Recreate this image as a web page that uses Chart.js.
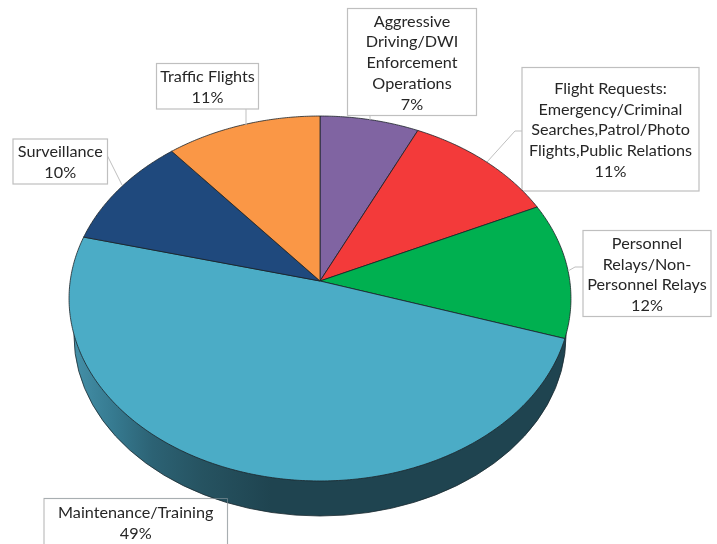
<!DOCTYPE html>
<html>
<head>
<meta charset="utf-8">
<script src="https://cdn.jsdelivr.net/npm/chart.js@4/dist/chart.umd.min.js"></script>
<style>
  html,body{margin:0;padding:0;background:#fff;}
  #pie{display:block;filter:blur(0.35px);}
</style>
</head>
<body>
<canvas id="pie" width="717" height="544"></canvas>
<script>
const categories = [
  "Aggressive Driving/DWI Enforcement Operations",
  "Flight Requests: Emergency/Criminal Searches,Patrol/Photo Flights,Public Relations",
  "Personnel Relays/Non-Personnel Relays",
  "Maintenance/Training",
  "Surveillance",
  "Traffic Flights"
];
const shares = [7, 11, 12, 49, 10, 11];
const sliceColors = ["#8064A2", "#F33A3A", "#00B050", "#4BACC6", "#1F497D", "#FA9746"];

// label wrapping as it appears in the boxes
const labelLines = [
  ["Aggressive", "Driving/DWI", "Enforcement", "Operations"],
  ["Flight Requests:", "Emergency/Criminal", "Searches,Patrol/Photo", "Flights,Public Relations"],
  ["Personnel", "Relays/Non-", "Personnel Relays"],
  ["Maintenance/Training"],
  ["Surveillance"],
  ["Traffic Flights"]
];
// x, y, w, h, first text line y, line height
const labelBoxes = [
  [347.5, 8.5, 129, 107, 21.5, 20.7],
  [522, 67.5, 177, 123.5, 89, 20.6],
  [583, 230.5, 128, 86, 244, 20.5],
  [44, 498.5, 183.5, 60, 512.5, 21],
  [13, 139, 94.5, 45, 152, 21],
  [156.5, 63.5, 102, 45.5, 77, 21]
];
const leaders = [
  [[370, 115.5], [370, 120]],
  [[522, 131], [515, 131], [487, 162]],
  [[583, 267], [575, 267], [568, 271]],
  [],
  [[107.5, 156], [122, 185]],
  [[246, 109], [246, 125]]
];

// the disc top is seen in perspective, so the apex is not the ellipse centre
const apex = {x: 320, y: 281};
const persp = {b: 249.8, a: 180.8, k: -0.0959};

function project(theta){
  const u = Math.sin(theta);
  const v = -Math.cos(theta);
  const d = 1 + persp.k * v;
  return [apex.x + persp.b * u / d, apex.y + persp.a * v / d];
}

const pie3d = {
  id: "pie3d",
  beforeDatasetsDraw(chart){
    const ctx = chart.ctx;
    const arcs = chart.getDatasetMeta(0).data;

    labelBoxes.forEach(b => drawBox(ctx, b));

    // side wall
    const grad = ctx.createLinearGradient(74, 0, 566, 0);
    grad.addColorStop(0, "#4490A8");
    grad.addColorStop(0.08, "#367A90");
    grad.addColorStop(0.16, "#2C6274");
    grad.addColorStop(0.26, "#265361");
    grad.addColorStop(0.4, "#1F4450");
    grad.addColorStop(1, "#1F4450");
    ctx.beginPath();
    ctx.ellipse(320, 336, 246, 180, 0, 0, Math.PI * 2);
    ctx.fillStyle = grad;
    ctx.fill();
    ctx.strokeStyle = "#1a2a30";
    ctx.lineWidth = 0.8;
    ctx.stroke();

    // top face, angles come from the library's arc elements
    arcs.forEach((arc, i) => {
      const start = arc.startAngle + Math.PI / 2;
      const end = arc.endAngle + Math.PI / 2;
      ctx.beginPath();
      ctx.moveTo(apex.x, apex.y);
      const steps = Math.ceil((end - start) / 0.01);
      for(let s = 0; s <= steps; s++){
        const p = project(start + (end - start) * s / steps);
        ctx.lineTo(p[0], p[1]);
      }
      ctx.closePath();
      ctx.fillStyle = sliceColors[i];
      ctx.fill();
      ctx.strokeStyle = "#1c2328";
      ctx.lineWidth = 0.8;
      ctx.lineJoin = "round";
      ctx.stroke();
    });

    // box edge shows through the wall
    ctx.save();
    ctx.strokeStyle = "rgba(150,160,165,0.55)";
    ctx.lineWidth = 1;
    ctx.beginPath();
    ctx.moveTo(labelBoxes[3][0], labelBoxes[3][1]);
    ctx.lineTo(labelBoxes[3][0] + labelBoxes[3][2], labelBoxes[3][1]);
    ctx.lineTo(labelBoxes[3][0] + labelBoxes[3][2], 544);
    ctx.stroke();
    ctx.restore();

    // leader lines and text
    ctx.strokeStyle = "#BFBFBF";
    ctx.lineWidth = 1;
    leaders.forEach(pts => {
      if(!pts.length) return;
      ctx.beginPath();
      pts.forEach((p, j) => j ? ctx.lineTo(p[0], p[1]) : ctx.moveTo(p[0], p[1]));
      ctx.stroke();
    });

    ctx.fillStyle = "#262626";
    ctx.font = "16.2px Lato";
    ctx.textAlign = "center";
    ctx.textBaseline = "middle";
    labelLines.forEach((lines, i) => {
      const b = labelBoxes[i];
      const cx = b[0] + b[2] / 2;
      lines.concat(shares[i] + "%").forEach((t, j) => {
        ctx.fillText(t, cx, b[4] + j * b[5]);
      });
    });
    return false;
  }
};

function drawBox(ctx, b){
  ctx.fillStyle = "#fff";
  ctx.fillRect(b[0], b[1], b[2], b[3]);
  ctx.strokeStyle = "#BFBFBF";
  ctx.lineWidth = 1.2;
  ctx.strokeRect(b[0], b[1], b[2], b[3]);
}

new Chart(document.getElementById("pie").getContext("2d"), {
  type: "pie",
  data: {
    labels: categories,
    datasets: [{data: shares, backgroundColor: sliceColors}]
  },
  options: {
    responsive: false,
    animation: false,
    plugins: {legend: {display: false}, tooltip: {enabled: false}}
  },
  plugins: [pie3d]
});
</script>
</body>
</html>
